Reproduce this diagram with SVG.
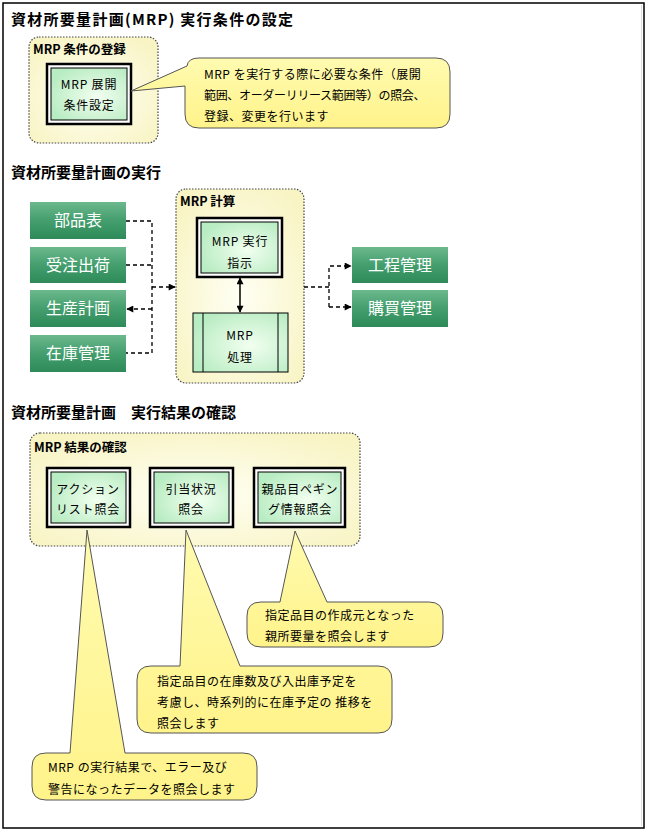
<svg xmlns="http://www.w3.org/2000/svg" width="648" height="830" viewBox="0 0 648 830">
<defs>
<style>
text{font-family:"Noto Sans CJK JP","Liberation Sans",sans-serif;}
.title{font-size:15px;font-weight:bold;fill:#000;}
.glabel{font-size:12.5px;font-weight:bold;fill:#000;}
.ntext{font-size:12px;fill:#000;text-anchor:middle;letter-spacing:0.8px;}
.gbtext{font-size:16px;fill:#fff;text-anchor:middle;}
.btext{font-size:12px;fill:#000;letter-spacing:0.5px;}
.grp{fill:url(#grpFill);stroke:#444;stroke-width:1.2;stroke-dasharray:1.5 1.5;}
.outer{fill:#fff;stroke:#000;stroke-width:2.5;}
.inner{fill:url(#nodeFill);stroke:#000;stroke-width:1;}
.gbox{fill:url(#greenFill);}
.bubble{fill:url(#bubFill);stroke:#555;stroke-width:1;}
.dash{fill:none;stroke:#000;stroke-width:1.3;stroke-dasharray:4 3;}
.solid{fill:none;stroke:#000;stroke-width:1.5;}
</style>
<radialGradient id="grpFill" cx="50%" cy="55%" r="65%">
<stop offset="0" stop-color="#fffff4"/>
<stop offset="1" stop-color="#f8f4c4"/>
</radialGradient>
<radialGradient id="nodeFill" cx="60%" cy="55%" r="65%">
<stop offset="0" stop-color="#f2fff0"/>
<stop offset="1" stop-color="#b8ecc2"/>
</radialGradient>
<linearGradient id="greenFill" x1="0" y1="0" x2="0" y2="1">
<stop offset="0" stop-color="#6cb88d"/>
<stop offset="0.5" stop-color="#449e6e"/>
<stop offset="1" stop-color="#2e8a58"/>
</linearGradient>
<linearGradient id="bubFill" x1="0" y1="0" x2="0" y2="1">
<stop offset="0" stop-color="#fffbb0"/>
<stop offset="1" stop-color="#fff38a"/>
</linearGradient>
<marker id="ah" viewBox="0 0 10 10" refX="9" refY="5" markerWidth="8" markerHeight="7" markerUnits="userSpaceOnUse" orient="auto-start-reverse">
<path d="M0,0 L10,5 L0,10 z" fill="#000"/>
</marker>
</defs>

<rect x="0" y="0" width="648" height="830" fill="#fff"/>
<rect id="frame" x="3" y="3" width="641" height="825" fill="none" stroke="#000" stroke-width="1.5"/>
<line x1="641.5" y1="5" x2="641.5" y2="826" stroke="#ddd" stroke-width="1"/>

<!-- Titles -->
<text class="title" x="11" y="25" textLength="282" lengthAdjust="spacing">資材所要量計画(MRP) 実行条件の設定</text>
<text class="title" x="11" y="178">資材所要量計画の実行</text>
<text class="title" x="11" y="418">資材所要量計画　実行結果の確認</text>

<!-- Section 1 -->
<g id="grp-mrp-cond">
<rect class="grp" x="29" y="37" width="129" height="106" rx="10"/>
<text class="glabel" x="33" y="54">MRP 条件の登録</text>
</g>
<g id="node-tenkai">
<rect class="outer" x="47" y="64" width="84" height="60"/>
<rect class="inner" x="51" y="68" width="76" height="52"/>
<text class="ntext" x="89" y="89">MRP 展開</text>
<text class="ntext" x="89" y="110">条件設定</text>
</g>
<g id="callout-1">
<path class="bubble" d="M199,58 H436 Q450,58 450,72 V114 Q450,128 436,128 H199 Q185,128 185,114 V86 L131,91 L187,66 Q188,58 199,58 Z"/>
<text class="btext" x="204" y="79">MRP を実行する際に必要な条件（展開</text>
<text class="btext" x="204" y="100" textLength="222" lengthAdjust="spacing">範囲、オーダーリリース範囲等）の照会、</text>
<text class="btext" x="204" y="121">登録、変更を行います</text>
</g>

<!-- Section 2 -->
<g id="grp-mrp-calc">
<rect class="grp" x="176" y="189" width="128" height="194" rx="10"/>
<text class="glabel" x="180" y="206">MRP 計算</text>
</g>
<g id="node-buhin">
<rect class="gbox" x="30" y="202" width="96" height="37"/>
<text class="gbtext" x="78" y="226">部品表</text>
</g>
<g id="node-juchu">
<rect class="gbox" x="30" y="247" width="96" height="36"/>
<text class="gbtext" x="78" y="271">受注出荷</text>
</g>
<g id="node-seisan">
<rect class="gbox" x="30" y="290" width="96" height="37"/>
<text class="gbtext" x="78" y="314">生産計画</text>
</g>
<g id="node-zaiko">
<rect class="gbox" x="30" y="335" width="96" height="37"/>
<text class="gbtext" x="78" y="359">在庫管理</text>
</g>
<g id="node-koutei">
<rect class="gbox" x="352" y="247" width="96" height="36"/>
<text class="gbtext" x="400" y="271">工程管理</text>
</g>
<g id="node-kobai">
<rect class="gbox" x="352" y="290" width="96" height="37"/>
<text class="gbtext" x="400" y="314">購買管理</text>
</g>
<g id="node-jikko">
<rect class="outer" x="197" y="218" width="85" height="59"/>
<rect class="inner" x="201" y="222" width="77" height="51"/>
<text class="ntext" x="240" y="246">MRP 実行</text>
<text class="ntext" x="240" y="268">指示</text>
</g>
<g id="node-shori">
<rect class="inner" x="193" y="313" width="95" height="59"/>
<line x1="203" y1="313" x2="203" y2="372" stroke="#000" stroke-width="1"/>
<line x1="278" y1="313" x2="278" y2="372" stroke="#000" stroke-width="1"/>
<text class="ntext" x="240" y="340">MRP</text>
<text class="ntext" x="240" y="362">処理</text>
</g>

<!-- Section 3 -->
<g id="grp-mrp-result">
<rect class="grp" x="30" y="433" width="330" height="113" rx="10"/>
<text class="glabel" x="34" y="452">MRP 結果の確認</text>
</g>
<g id="node-action">
<rect class="outer" x="47" y="468" width="83" height="59"/>
<rect class="inner" x="51" y="472" width="75" height="51"/>
<text class="ntext" x="88" y="494">アクション</text>
<text class="ntext" x="88" y="514">リスト照会</text>
</g>
<g id="node-hikiate">
<rect class="outer" x="150" y="468" width="83" height="59"/>
<rect class="inner" x="154" y="472" width="75" height="51"/>
<text class="ntext" x="191" y="494">引当状況</text>
<text class="ntext" x="191" y="514">照会</text>
</g>
<g id="node-pegging">
<rect class="outer" x="254" y="468" width="91" height="59"/>
<rect class="inner" x="258" y="472" width="83" height="51"/>
<text class="ntext" x="300" y="494">親品目ペギン</text>
<text class="ntext" x="300" y="514">グ情報照会</text>
</g>

<g id="callout-pegging">
<path class="bubble" d="M261,602 H280 L295,531 L327,602 H429 Q443,602 443,616 V633 Q443,647 429,647 H261 Q247,647 247,633 V616 Q247,602 261,602 Z"/>
<text class="btext" x="265" y="620">指定品目の作成元となった</text>
<text class="btext" x="265" y="641">親所要量を照会します</text>
</g>
<g id="callout-hikiate">
<path class="bubble" d="M151,666 H180 L186,530 L240,666 H378 Q392,666 392,680 V719 Q392,733 378,733 H151 Q137,733 137,719 V680 Q137,666 151,666 Z"/>
<text class="btext" x="157" y="686">指定品目の在庫数及び入出庫予定を</text>
<text class="btext" x="157" y="707">考慮し、時系列的に在庫予定の 推移を</text>
<text class="btext" x="157" y="728">照会します</text>
</g>
<g id="callout-action">
<path class="bubble" d="M46,753 H70 L87,530 L125,753 H243 Q257,753 257,767 V786 Q257,800 243,800 H46 Q32,800 32,786 V767 Q32,753 46,753 Z"/>
<text class="btext" x="48" y="772">MRP の実行結果で、エラー及び</text>
<text class="btext" x="48" y="794">警告になったデータを照会します</text>
</g>

<!-- Connectors -->
<g id="connectors">
<path class="dash" d="M126,221 H152 V353 H126"/>
<path class="dash" d="M126,265 H152"/>
<path class="dash" d="M152,309 H127" marker-end="url(#ah)"/>
<path class="dash" d="M152,287 H175" marker-end="url(#ah)"/>
<path class="dash" d="M304,287 H329"/>
<path class="dash" d="M329,307 V266 H351" marker-end="url(#ah)"/>
<path class="dash" d="M329,307 H351" marker-end="url(#ah)"/>
<path class="solid" d="M240,278 V312" marker-start="url(#ah)" marker-end="url(#ah)"/>
</g>
</svg>
